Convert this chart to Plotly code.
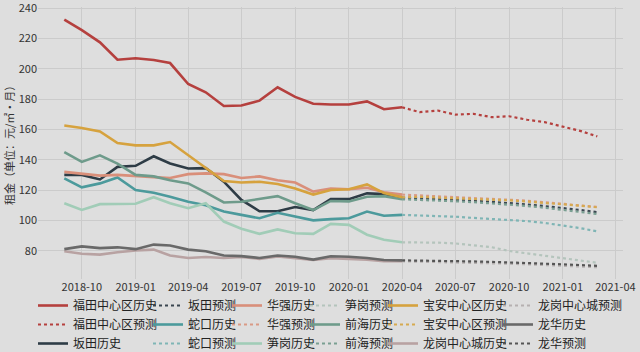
import plotly.graph_objects as go

hist_months = ["2018-09-01","2018-10-01","2018-11-01","2018-12-01","2019-01-01","2019-02-01","2019-03-01",
               "2019-04-01","2019-05-01","2019-06-01","2019-07-01","2019-08-01","2019-09-01","2019-10-01",
               "2019-11-01","2019-12-01","2020-01-01","2020-02-01","2020-03-01","2020-04-01"]
fc_months = ["2020-04-01","2020-05-01","2020-06-01","2020-07-01","2020-08-01","2020-09-01","2020-10-01",
             "2020-11-01","2020-12-01","2021-01-01","2021-02-01","2021-03-01"]

futian_hist = [232.5, 225.5, 217.5, 206, 207, 205.8, 203.8, 190, 184.5, 175.5, 175.8, 179, 187.8, 181.5, 177, 176.5, 176.5, 178.5, 173.3, 174.6]
futian_fc = [174.6, 171.4, 172.5, 169.8, 170.3, 168.1, 168.7, 166.4, 164.8, 162, 158.9, 155.4]

bantian_hist = [130, 130, 127, 135.3, 136, 142.3, 137.5, 134.2, 134.5, 125.5, 113.5, 106, 106, 108.8, 106.8, 114, 114, 117.8, 117.4, 115]
bantian_fc = [115, 114.6, 114, 113.4, 113, 112.2, 111.5, 110.5, 109.4, 108.2, 106.8, 105.4]

shekou_hist = [127.7, 121.8, 124.4, 128.3, 120, 118.2, 115.6, 112.3, 110, 105.8, 103.6, 101.4, 105, 102.5, 100, 100.8, 101.4, 105.8, 103, 103.6]
shekou_fc = [103.6, 103.3, 102.8, 102.4, 101.6, 101, 100.4, 99.5, 98.3, 96.8, 94.8, 92.7]

huaqiang_hist = [132, 131, 129.5, 130, 129.5, 128.5, 128, 130.5, 131, 130.5, 128, 129, 126.5, 125, 119, 121, 120.5, 121.5, 118.5, 117]
huaqiang_fc = [117, 116.4, 116, 115.5, 115, 114.3, 113.8, 113, 112, 111, 109.8, 108.8]

sungang_hist = [111.3, 106.9, 110.7, 110.7, 111, 115.3, 111.3, 108, 111.3, 99.2, 94.5, 91.1, 94, 91.5, 91.1, 97.7, 97, 90.5, 87.2, 85.5]
sungang_fc = [85.5, 85.6, 85.3, 84.8, 83.6, 82.3, 79.8, 78.2, 76.5, 75, 73.4, 72]

qianhai_hist = [145, 138.6, 142.9, 137.5, 130, 129, 126.5, 124.4, 118.5, 111.8, 112.3, 113.9, 116, 111.3, 106.8, 112.8, 112.5, 115.6, 116, 113.9]
qianhai_fc = [113.9, 113.6, 113, 112.6, 112, 111.2, 110.5, 109.5, 108.3, 107, 105.6, 104.2]

baoan_hist = [162.6, 161, 158.7, 151, 149.5, 149.5, 151.7, 143, 135, 126, 125, 125.5, 124, 121, 117, 120, 120.5, 123.7, 118, 115.2]
baoan_fc = [115.2, 115.5, 115, 114.6, 114.2, 113.5, 113.2, 112.4, 111.6, 110.8, 109.6, 108.6]

longgang_hist = [79.6, 78, 77.4, 79, 80.1, 80.7, 76.8, 75.2, 75.8, 75.2, 75.8, 74.6, 76.1, 75.2, 73.8, 75, 74.5, 74, 73, 73]
longgang_fc = [73, 72.8, 72.6, 72.4, 72.1, 71.8, 71.4, 71, 70.6, 70.1, 69.6, 69.1]

longhua_hist = [81, 82.8, 81.7, 82.2, 81, 84, 83.4, 80.7, 79.6, 76.8, 76.4, 75.2, 76.8, 76, 74.1, 76.3, 76, 75.2, 73.8, 73.6]
longhua_fc = [73.6, 73.5, 73.3, 73.2, 72.9, 72.6, 72.3, 71.9, 71.5, 71, 70.5, 70]

districts = ["福田中心区", "坂田", "蛇口", "华强", "笋岗", "前海", "宝安中心区", "龙岗中心城", "龙华"]
hist_series = [futian_hist, bantian_hist, shekou_hist, huaqiang_hist, sungang_hist, qianhai_hist, baoan_hist, longgang_hist, longhua_hist]
fc_series = [futian_fc, bantian_fc, shekou_fc, huaqiang_fc, sungang_fc, qianhai_fc, baoan_fc, longgang_fc, longhua_fc]
hist_colors = ["#b5403e", "#2e3c46", "#4c9a9c", "#d98f7a", "#a1ccb7", "#6e9b8b", "#d6a23e", "#b8a2a2", "#696969"]
fc_colors = ["#b5403e", "#3a4650", "#7fb5b5", "#d99a85", "#b4c4bc", "#7a9f92", "#d6aa50", "#b5b0b0", "#555555"]

tick_vals = ["2018-10-01","2019-01-01","2019-04-01","2019-07-01","2019-10-01","2020-01-01","2020-04-01",
             "2020-07-01","2020-10-01","2021-01-01","2021-04-01"]
tick_text = ["2018-10","2019-01","2019-04","2019-07","2019-10","2020-01","2020-04","2020-07","2020-10","2021-01","2021-04"]
y_ticks = [80, 100, 120, 140, 160, 180, 200, 220, 240]
y_title = "租金（单位：元/㎡·月）"

FONT = "Noto Sans CJK SC"
ML, MR, MT, MB = 38, 17, 7, 73
PW = 640 - ML - MR
fig = go.Figure()

entries = []
for i, d in enumerate(districts):
    entries.append((d + "历史", hist_series[i], hist_months, hist_colors[i], "solid"))
    entries.append((d + "预测", fc_series[i], fc_months, fc_colors[i], "dot"))

legend_names = ["legend", "legend2", "legend3", "legend4", "legend5", "legend6"]
for k, (name, ys, xs, col, dash) in enumerate(entries):
    fig.add_trace(go.Scatter(
        x=xs, y=ys, mode="lines", name=name,
        line=dict(color=col, width=2.6 if dash == "solid" else 2.2, dash=dash),
        legend=legend_names[k // 3],
    ))

bg = "#dedede"
layout = dict(
    template="none",
    width=640, height=352,
    paper_bgcolor=bg, plot_bgcolor=bg,
    margin=dict(l=ML, r=MR, t=MT, b=MB, autoexpand=False),
    font=dict(family=FONT, size=11, color="#333333"),
    showlegend=True,
    xaxis=dict(
        type="date", range=["2018-07-18", "2021-04-14"],
        tickvals=tick_vals, ticktext=tick_text,
        showgrid=True, gridcolor="#cbcbcb", gridwidth=1,
        zeroline=False, showline=False, ticks="",
        tickfont=dict(size=11, color="#333333"),
    ),
    yaxis=dict(
        range=[61.3, 240.8], tickvals=y_ticks,
        showgrid=True, gridcolor="#cbcbcb", gridwidth=1,
        zeroline=False, showline=False, ticks="",
        tickfont=dict(size=11, color="#333333"),
        ticklabeloverflow="allow",
    ),
    annotations=[dict(
        text=y_title, textangle=-90, xref="paper", yref="paper",
        x=(9 - ML) / PW, y=0.5, xanchor="center", yanchor="middle", showarrow=False,
        font=dict(size=11, color="#333333"),
    )],
)
col_text_x = [73, 188, 267, 345, 423, 538]
for j, ln in enumerate(legend_names):
    layout[ln] = dict(
        xref="container", yref="container",
        x=(col_text_x[j] - 40) / 640, y=1 - 291 / 352,
        xanchor="left", yanchor="top",
        orientation="v", bgcolor="rgba(0,0,0,0)",
        font=dict(family=FONT, size=12, color="#222222"),
        tracegroupgap=0,
    )
fig.update_layout(**layout)
fig.write_html("out.html")
